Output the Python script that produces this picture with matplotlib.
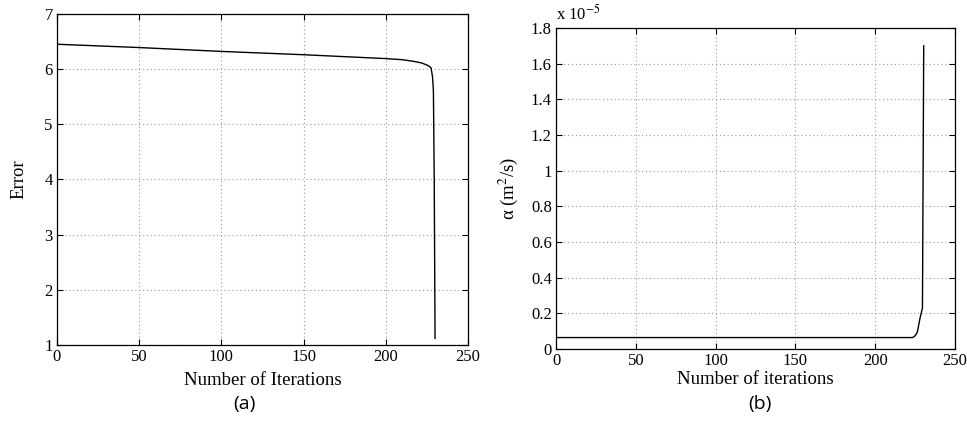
import matplotlib
matplotlib.use("Agg")
from matplotlib import pyplot as plt

# (a) error vs iterations
iter_a = [0, 50, 100, 150, 200, 210, 217, 222, 226, 227.6, 228.5, 229, 229.5, 230]
error_a = [6.45, 6.39, 6.32, 6.26, 6.19, 6.17, 6.14, 6.11, 6.06, 6.02, 5.85, 5.6, 4.0, 1.12]

# (b) alpha vs iterations, in units of 1e-5 m^2/s
iter_b = [0, 223.5, 225, 226.4, 228, 229.3, 229.6, 230.4]
alpha_b = [0.065, 0.065, 0.075, 0.095, 0.17, 0.22, 0.23, 1.70]

xticks = [0, 50, 100, 150, 200, 250]

plt.rcParams['font.family'] = ['Liberation Serif', 'DejaVu Serif']
plt.rcParams['mathtext.fontset'] = 'stix'
plt.rcParams['font.size'] = 12

fig = plt.figure(figsize=(9.67, 4.3), dpi=100)
ax1 = fig.add_axes([0.0589, 0.1977, 0.425, 0.770])
ax2 = fig.add_axes([0.575, 0.188, 0.4126, 0.747])


def style(ax):
    ax.grid(True, linestyle=(0, (1, 2.5)), color='#999999', linewidth=0.8)
    ax.tick_params(direction='in', top=True, right=True, length=4, width=0.8,
                   labelsize=12, pad=3)
    for s in ax.spines.values():
        s.set_linewidth(0.9)
    ax.set_xticks(xticks)
    ax.set_xlim(0, 250)


ax1.plot(iter_a, error_a, color='black', linewidth=1.0)
style(ax1)
ax1.set_ylim(1, 7)
ax1.set_yticks([1, 2, 3, 4, 5, 6, 7])
ax1.set_xlabel('Number of Iterations', fontsize=13.5, labelpad=5)
ax1.set_ylabel('Error', fontsize=13.5, labelpad=12)

ax2.plot(iter_b, alpha_b, color='black', linewidth=1.0)
style(ax2)
ax2.set_ylim(0, 1.8)
ax2.set_yticks([0, 0.2, 0.4, 0.6, 0.8, 1, 1.2, 1.4, 1.6, 1.8])
ax2.set_yticklabels(['0', '0.2', '0.4', '0.6', '0.8', '1', '1.2', '1.4', '1.6', '1.8'])
ax2.set_xlabel('Number of iterations', fontsize=13.5, labelpad=1)
ax2.set_ylabel('α (m$^2$/s)', fontsize=13.5, labelpad=8)
ax2.text(0.0, 1.012, r'x 10$^{-5}$', transform=ax2.transAxes, fontsize=12,
         ha='left', va='bottom')

fig.text(0.253, 0.05, '(a)', fontsize=14, ha='center', family=['Open Sans', 'DejaVu Sans'])
fig.text(0.786, 0.05, '(b)', fontsize=14, ha='center', family=['Open Sans', 'DejaVu Sans'])

fig.savefig('out.png', dpi=100)
